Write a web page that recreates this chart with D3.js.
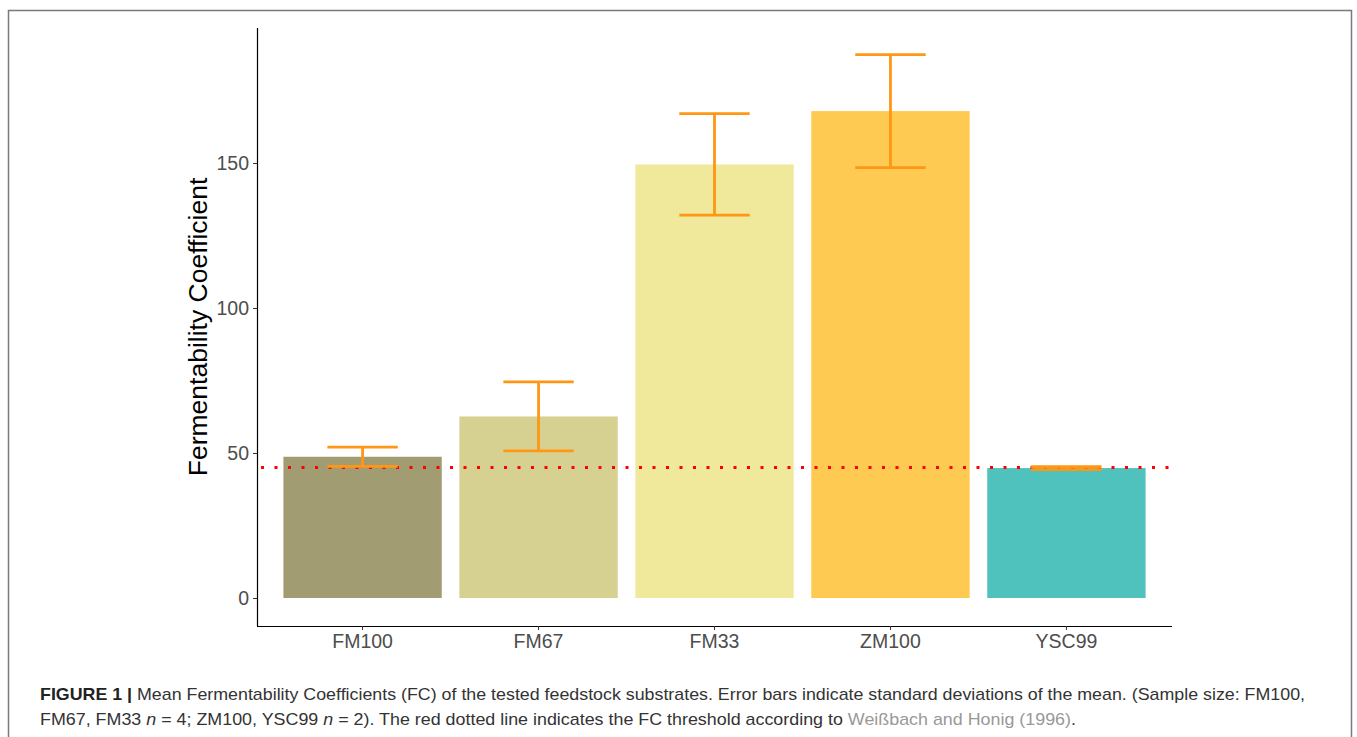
<!DOCTYPE html>
<html><head><meta charset="utf-8">
<script src="https://cdn.jsdelivr.net/npm/d3@7"></script>
<style>body{margin:0;background:#fff;} svg{display:block;font-family:"Liberation Sans",Arial,sans-serif;}</style>
</head><body>
<svg id="c" width="1357" height="737"></svg>
<script>
const categories = ["FM100","FM67","FM33","ZM100","YSC99"];
const means = [48.7, 62.6, 149.5, 167.9, 44.8];
const sds = [3.3, 11.9, 17.5, 19.5, 0.5];
const colors = ["#a29c73","#d6d190","#f0e99b","#ffca52","#4fc2bd"];
const yTicks = [0, 50, 100, 150];
const threshold = 45;

const svg = d3.select("#c");
// frame
svg.append("path").attr("d","M8.5,737 V10.5 H1351.5 V737").attr("fill","none").attr("stroke","#7a7a7a").attr("stroke-width",1.5);

const L=257, R=1172, T=28, B=626;
const x = d3.scaleBand().domain(categories).range([L,R]).paddingInner(0.1).paddingOuter(0.15);
const y = d3.scaleLinear().domain([0,150]).range([598,163]);

const g = svg.append("g");
g.selectAll("rect.bar").data(categories).join("rect")
 .attr("x",d=>x(d)).attr("width",x.bandwidth())
 .attr("y",(d,i)=>y(means[i])).attr("height",(d,i)=>y(0)-y(means[i]))
 .attr("fill",(d,i)=>colors[i]);

// threshold line
g.append("line").attr("x1",L+4).attr("x2",R).attr("y1",y(threshold)).attr("y2",y(threshold))
 .attr("stroke","#ff0000").attr("stroke-width",3).attr("stroke-dasharray","3,10.5");

// error bars
const capW = x.step()*0.4;
const eb = g.selectAll("g.eb").data(categories).join("g").attr("stroke","#ff9614").attr("stroke-width",2.8);
eb.append("line").attr("x1",d=>x(d)+x.bandwidth()/2).attr("x2",d=>x(d)+x.bandwidth()/2)
 .attr("y1",(d,i)=>y(means[i]+sds[i])).attr("y2",(d,i)=>y(means[i]-sds[i]));
eb.append("line").attr("x1",d=>x(d)+x.bandwidth()/2-capW/2).attr("x2",d=>x(d)+x.bandwidth()/2+capW/2)
 .attr("y1",(d,i)=>y(means[i]+sds[i])).attr("y2",(d,i)=>y(means[i]+sds[i]));
eb.append("line").attr("x1",d=>x(d)+x.bandwidth()/2-capW/2).attr("x2",d=>x(d)+x.bandwidth()/2+capW/2)
 .attr("y1",(d,i)=>y(means[i]-sds[i])).attr("y2",(d,i)=>y(means[i]-sds[i]));

// axes
const ya = svg.append("g").attr("transform",`translate(${L},0)`)
 .call(d3.axisLeft(y).tickValues(yTicks).tickSize(4).tickPadding(4));
ya.select(".domain").attr("d",`M0.5,${T}V${B}`).attr("stroke","#000").attr("stroke-width",1.2);
const xa = svg.append("g").attr("transform",`translate(0,${B})`)
 .call(d3.axisBottom(x).tickSize(4).tickPadding(4));
xa.select(".domain").attr("d",`M${L},0.5H${R}`).attr("stroke","#000").attr("stroke-width",1.2);
[ya,xa].forEach(a=>{
 a.selectAll(".tick line").attr("stroke","#333");
 a.selectAll(".tick text").attr("fill","#4d4d4d").style("font-size","19.5px").style("font-family","Liberation Sans, Arial, sans-serif");
});

svg.append("text").attr("transform","translate(207,327) rotate(-90)").attr("text-anchor","middle")
 .style("font-size","26.5px").attr("fill","#000").text("Fermentability Coefficient");

// caption
const cap = svg.append("g").style("font-size","17px").attr("fill","#333");
const t1 = cap.append("text").attr("x",40).attr("y",700).attr("textLength",1265).attr("lengthAdjust","spacingAndGlyphs");
t1.append("tspan").style("font-weight","bold").attr("fill","#222").text("FIGURE 1 | ");
t1.append("tspan").text("Mean Fermentability Coefficients (FC) of the tested feedstock substrates. Error bars indicate standard deviations of the mean. (Sample size: FM100,");
const t2 = cap.append("text").attr("x",40).attr("y",725).attr("textLength",1036).attr("lengthAdjust","spacingAndGlyphs");
t2.append("tspan").text("FM67, FM33 ");
t2.append("tspan").style("font-style","italic").text("n");
t2.append("tspan").text(" = 4; ZM100, YSC99 ");
t2.append("tspan").style("font-style","italic").text("n");
t2.append("tspan").text(" = 2). The red dotted line indicates the FC threshold according to ");
t2.append("tspan").attr("fill","#999").text("Weißbach and Honig (1996)");
t2.append("tspan").text(".");
</script>
</body></html>
